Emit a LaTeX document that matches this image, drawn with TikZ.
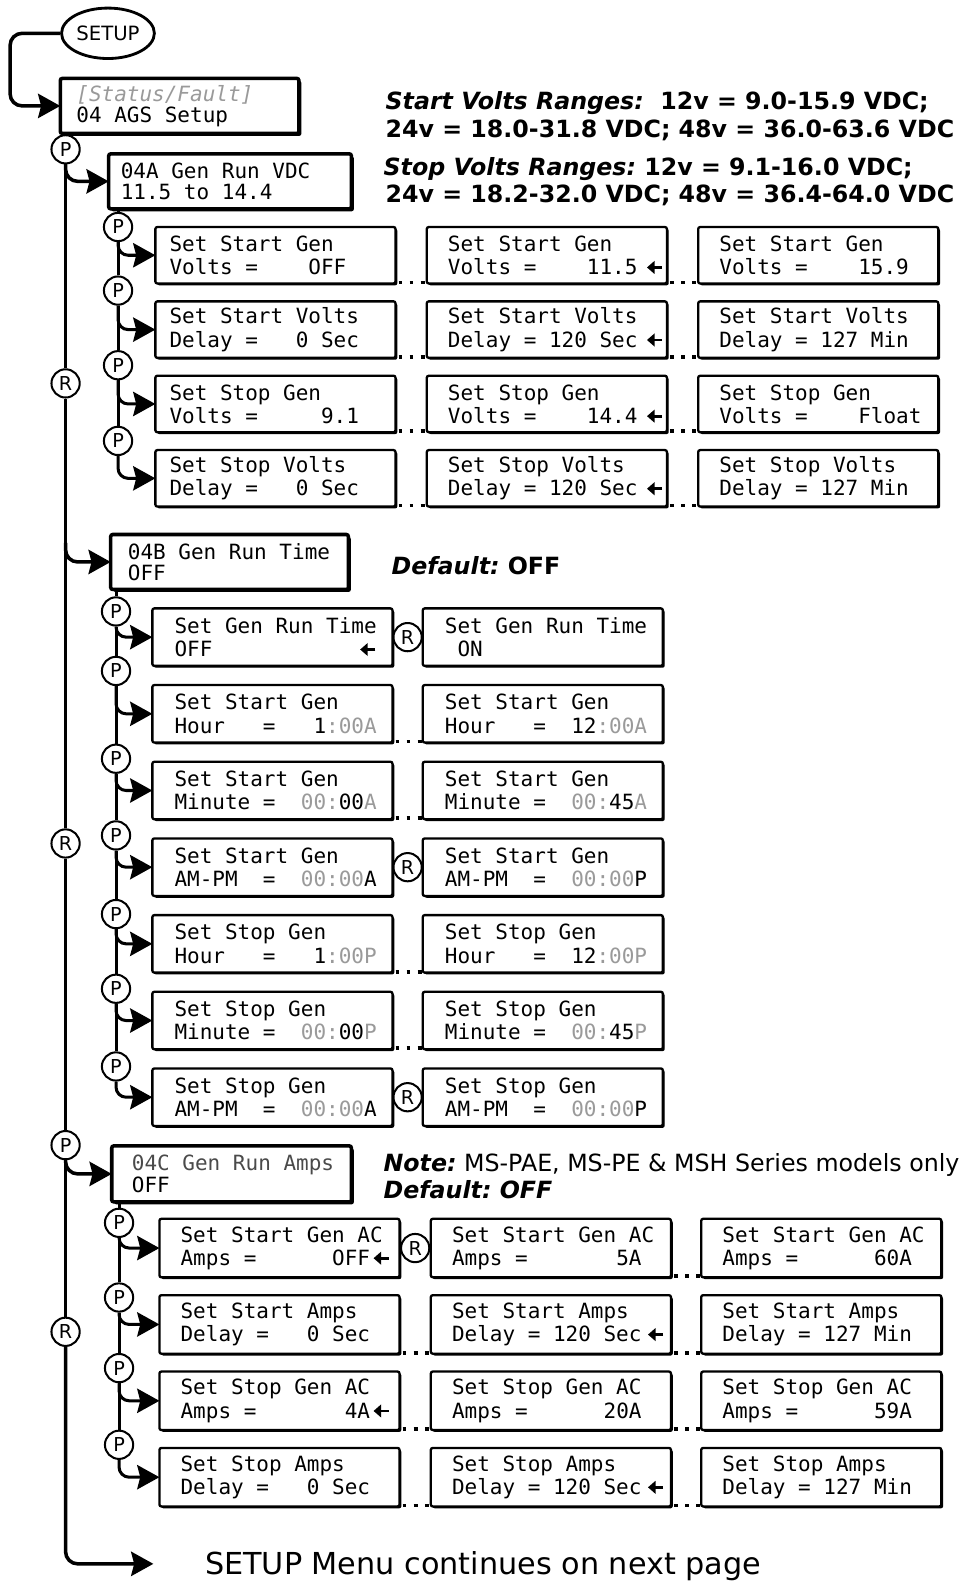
\documentclass[tikz,border=0pt]{standalone}
\usepackage{fontspec}
\setmainfont{DejaVu Sans}
\setmonofont{DejaVu Sans Mono}
\usepackage{xcolor}
\usetikzlibrary{arrows.meta, positioning, calc, shapes.geometric, shadows}
\frenchspacing

\definecolor{lcdgray}{HTML}{9A9A9A}
\definecolor{titlegray}{HTML}{4A4A4A}
\newcommand{\lcdfont}{\ttfamily\fontsize{20.8}{23}\selectfont}
\newcommand{\menufont}{\ttfamily\fontsize{20.8}{21}\selectfont}
\newcommand{\gr}[1]{\textcolor{lcdgray}{#1}}
\newcommand{\selarrow}[1][8pt]{\rlap{\hspace{#1}\tikz[baseline=-7pt, x=1pt, y=1pt]\draw[line width=2.8pt, -{Triangle[length=7.5pt, width=12.5pt]}] (15,0) -- (0,0);}}

\begin{document}
\begin{tikzpicture}[x=1pt, y=-1pt, >={Stealth[length=22pt, width=24pt, inset=3pt]},
    box/.style={draw, fill=white, rounded corners=2pt, anchor=north west, align=left, outer sep=0pt,
        execute at begin node={\spaceskip=0pt\xspaceskip=0pt\rightskip=-40pt plus 1fil}},
    lcd/.style={box, line width=2.3pt, font=\lcdfont, minimum height=56pt, inner xsep=21pt, text width=196pt,
        drop shadow={shadow xshift=1.8pt, shadow yshift=-1.8pt, opacity=1, fill=black}},
    lcdA/.style={lcd, inner xsep=14pt, text width=210pt},
    lcdB/.style={lcd, minimum height=57pt, inner xsep=22pt, text width=194pt},
    lcdC/.style={lcd, minimum height=58pt},
    menu/.style={box, line width=3.5pt, font=\menufont, minimum height=54.5pt, inner xsep=16pt, text width=204.5pt,
        drop shadow={shadow xshift=2.4pt, shadow yshift=-2.4pt, opacity=1, fill=black}},
    btn/.style={circle, draw, line width=2pt, fill=white, inner sep=0pt, minimum size=28pt, font=\fontsize{19}{19}\selectfont},
    flow/.style={line width=3.5pt, rounded corners=12pt},
    sub/.style={line width=3pt, rounded corners=10pt},
    dots/.style={line width=3.8pt, dash pattern=on 3.8pt off 7.2pt},
    ann/.style={anchor=base west, inner sep=0pt, font=\fontsize{23.5}{27}\selectfont}]
    \useasboundingbox (0,0) rectangle (959,1568);

    \node[ellipse, draw, line width=2.8pt, minimum width=92pt, minimum height=50pt, inner sep=0pt, font=\fontsize{19.5}{19.5}\selectfont] (setup) at (107,33) {SETUP};
    \node[menu] (ags) at (59.75,77.75) {\gr{\itshape[Status/Fault]}\\04 AGS Setup};
    \coordinate (loop) at (10,105);
    \draw[flow, ->] (setup) -| (loop) -- (ags);

    \node[ann] (rngStart) at (382,109) {\bfseries\textit{Start Volts Ranges:}~ 12v = 9.0-15.9 VDC;};
    \node[ann] (rngStart2) at (382,136) {\bfseries 24v = 18.0-31.8 VDC; 48v = 36.0-63.6 VDC};
    \node[ann] (rngStop) at (380,174) {\bfseries\textit{Stop Volts Ranges:} 12v = 9.1-16.0 VDC;};
    \node[ann] (rngStop2) at (382,201) {\bfseries 24v = 18.2-32.0 VDC; 48v = 36.4-64.0 VDC};

    \node[btn] (p0) at (65,148) {P};
    \node[btn] (r1) at (65,380) {R};
    \node[btn] (r2) at (65,836) {R};
    \node[btn] (p3) at (65,1135) {P};
    \node[btn] (r3) at (65,1320) {R};
    \coordinate (jB) at (65,538);
    \coordinate (cend) at (152,1550);
    \draw[flow] (ags.south -| p0) -- (p0) -- (r1) -- (r2) -- (p3) -- (r3);
    \draw[flow, ->] (r3) |- (cend);
    \node[anchor=base west, inner sep=0pt, font=\fontsize{30}{30}\selectfont] (cont) at (203,1561) {SETUP Menu continues on next page};

    % 04A
    \node[menu, inner xsep=12pt, text width=216.5pt] (gA) at (107.75,152.5) {04A Gen Run VDC\\11.5 to 14.4};
    \draw[flow, ->] (p0) |- (gA);
    \node[btn] (pA1) at (117,225) {P};
    \node[btn] (pA2) at (117,288) {P};
    \node[btn] (pA3) at (117,362) {P};
    \node[btn] (pA4) at (117,437) {P};

    \node[lcdA] (a11) at (154,225) {Set Start Gen\\Volts =~~~~OFF};
    \node[lcd, right=31pt of a11] (a12) {Set Start Gen\\Volts =~~~~11.5\selarrow[8pt]};
    \node[lcd, right=31pt of a12] (a13) {Set Start Gen\\Volts =~~~~15.9};
    \node[lcdA, below=17.7pt of a11] (a21) {Set Start Volts\\Delay =~~~0 Sec};
    \node[lcd, right=31pt of a21] (a22) {Set Start Volts\\Delay = 120 Sec\selarrow[8pt]};
    \node[lcd, right=31pt of a22] (a23) {Set Start Volts\\Delay = 127 Min};
    \node[lcdA, below=17.7pt of a21] (a31) {Set Stop Gen\\Volts =~~~~~9.1};
    \node[lcd, right=31pt of a31] (a32) {Set Stop Gen\\Volts =~~~~14.4\selarrow[8pt]};
    \node[lcd, right=31pt of a32] (a33) {Set Stop Gen\\Volts =~~~~Float};
    \node[lcdA, below=17.7pt of a31] (a41) {Set Stop Volts\\Delay =~~~0 Sec};
    \node[lcd, right=31pt of a41] (a42) {Set Stop Volts\\Delay = 120 Sec\selarrow[8pt]};
    \node[lcd, right=31pt of a42] (a43) {Set Stop Volts\\Delay = 127 Min};

    \draw[sub] (gA.south -| pA1) -- (pA1) -- (pA2) -- (pA3) -- (pA4);
    \foreach \k in {1,...,4} {
        \draw[sub, ->] (pA\k) |- (a\k1);
        \draw[dots] ([xshift=3pt, yshift=1pt]a\k1.south east) -- ([yshift=1pt]a\k2.south west);
        \draw[dots] ([xshift=3pt, yshift=1pt]a\k2.south east) -- ([yshift=1pt]a\k3.south west);
    }

    % 04B
    \node[menu, inner xsep=17pt, text width=201.5pt] (gB) at (109.75,529.75) {04B Gen Run Time\\OFF};
    \draw[flow, ->] (jB) |- (gB);
    \node[ann] (dfltB) at (388,569) {\bfseries\textit{Default:} OFF};
    \node[btn] (pB1) at (115,606) {P};
    \node[btn] (pB2) at (115,665) {P};
    \node[btn] (pB3) at (115,752) {P};
    \node[btn] (pB4) at (115,828) {P};
    \node[btn] (pB5) at (115,906) {P};
    \node[btn] (pB6) at (115,980) {P};
    \node[btn] (pB7) at (115,1057) {P};

    \node[lcdB] (b11) at (151,603) {Set Gen Run Time\\OFF\selarrow[145pt]};
    \node[lcdB, right=30pt of b11] (b12) {Set Gen Run Time\\~ON};
    \node[lcdB, below=19pt of b11] (b21) {Set Start Gen\\Hour~~~=~~~1\gr{:00A}};
    \node[lcdB, right=30pt of b21] (b22) {Set Start Gen\\Hour~~~=~~12\gr{:00A}};
    \node[lcdB, below=19pt of b21] (b31) {Set Start Gen\\Minute =~~\gr{00:}00\gr{A}};
    \node[lcdB, right=30pt of b31] (b32) {Set Start Gen\\Minute =~~\gr{00:}45\gr{A}};
    \node[lcdB, below=19pt of b31] (b41) {Set Start Gen\\AM-PM~~=~~\gr{00:00}A};
    \node[lcdB, right=30pt of b41] (b42) {Set Start Gen\\AM-PM~~=~~\gr{00:00}P};
    \node[lcdB, below=19pt of b41] (b51) {Set Stop Gen\\Hour~~~=~~~1\gr{:00P}};
    \node[lcdB, right=30pt of b51] (b52) {Set Stop Gen\\Hour~~~=~~12\gr{:00P}};
    \node[lcdB, below=19pt of b51] (b61) {Set Stop Gen\\Minute =~~\gr{00:}00\gr{P}};
    \node[lcdB, right=30pt of b61] (b62) {Set Stop Gen\\Minute =~~\gr{00:}45\gr{P}};
    \node[lcdB, below=19pt of b61] (b71) {Set Stop Gen\\AM-PM~~=~~\gr{00:00}A};
    \node[lcdB, right=30pt of b71] (b72) {Set Stop Gen\\AM-PM~~=~~\gr{00:00}P};

    \draw[sub] (gB.south -| pB1) -- (pB1) -- (pB2) -- (pB3) -- (pB4) -- (pB5) -- (pB6) -- (pB7);
    \foreach \k in {1,...,7} \draw[sub, ->] (pB\k) |- (b\k1);
    \foreach \k in {1,4,7} \node[btn] (rB\k) at ($(b\k1.east)!.5!(b\k2.west)$) {R};
    \foreach \k in {2,3,5,6} \draw[dots] ([xshift=3pt, yshift=1pt]b\k1.south east) -- ([yshift=1pt]b\k2.south west);

    % 04C
    \node[menu, minimum height=55.5pt, inner xsep=20pt, text width=197.5pt] (gC) at (110.75,1135.75) {\textcolor{titlegray}{04C Gen Run Amps}\\OFF};
    \draw[flow, ->] (p3) |- (gC);
    \node[ann] (noteC) at (380,1161) {\textbf{\textit{Note:}} MS-PAE, MS-PE \& MSH Series models only};
    \node[ann] (dfltC) at (380,1188) {\bfseries\itshape Default: OFF};
    \node[btn] (pC1) at (118,1212) {P};
    \node[btn] (pC2) at (118,1286) {P};
    \node[btn] (pC3) at (118,1356) {P};
    \node[btn] (pC4) at (118,1432) {P};

    \node[lcdC] (c11) at (158,1208) {Set Start Gen AC\\Amps =~~~~~~OFF\selarrow[2pt]};
    \node[lcdC, right=31pt of c11] (c12) {Set Start Gen AC\\Amps =~~~~~~~5A};
    \node[lcdC, right=30pt of c12] (c13) {Set Start Gen AC\\Amps =~~~~~~60A};
    \node[lcdC, below=17.7pt of c11] (c21) {Set Start Amps\\Delay =~~~0 Sec};
    \node[lcdC, right=31pt of c21] (c22) {Set Start Amps\\Delay = 120 Sec\selarrow[5pt]};
    \node[lcdC, right=30pt of c22] (c23) {Set Start Amps\\Delay = 127 Min};
    \node[lcdC, below=17.7pt of c21] (c31) {Set Stop Gen AC\\Amps =~~~~~~~4A\selarrow[2pt]};
    \node[lcdC, right=31pt of c31] (c32) {Set Stop Gen AC\\Amps =~~~~~~20A};
    \node[lcdC, right=30pt of c32] (c33) {Set Stop Gen AC\\Amps =~~~~~~59A};
    \node[lcdC, below=17.7pt of c31] (c41) {Set Stop Amps\\Delay =~~~0 Sec};
    \node[lcdC, right=31pt of c41] (c42) {Set Stop Amps\\Delay = 120 Sec\selarrow[5pt]};
    \node[lcdC, right=30pt of c42] (c43) {Set Stop Amps\\Delay = 127 Min};

    \draw[sub] (gC.south -| pC1) -- (pC1) -- (pC2) -- (pC3) -- (pC4);
    \foreach \k in {1,...,4} \draw[sub, ->] (pC\k) |- (c\k1);
    \node[btn] (rC1) at ($(c11.east)!.5!(c12.west)$) {R};
    \draw[dots] ([xshift=3pt, yshift=1pt]c12.south east) -- ([yshift=1pt]c13.south west);
    \foreach \k in {2,3,4} {
        \draw[dots] ([xshift=3pt, yshift=1pt]c\k1.south east) -- ([yshift=1pt]c\k2.south west);
        \draw[dots] ([xshift=3pt, yshift=1pt]c\k2.south east) -- ([yshift=1pt]c\k3.south west);
    }
\end{tikzpicture}
\end{document}
